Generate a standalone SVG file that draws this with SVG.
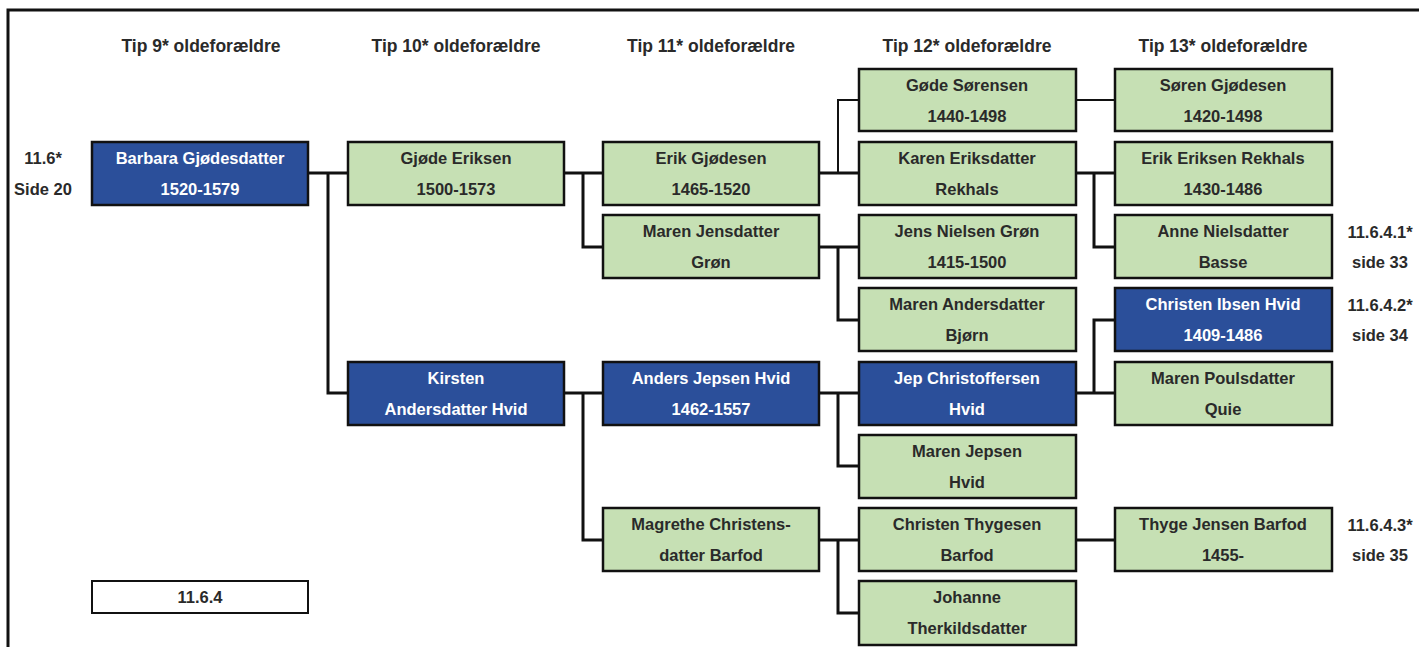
<svg xmlns="http://www.w3.org/2000/svg" width="1419" height="647" viewBox="0 0 1419 647">
<style>
.bg{fill:#ffffff}
.frame{stroke:#111;stroke-width:3;fill:none}
.g rect{fill:#c6e0b4;stroke:#111;stroke-width:2.5}
.b rect{fill:#2b4f9a;stroke:#111;stroke-width:2.5}
.w rect{fill:#ffffff;stroke:#111;stroke-width:2}
.edge{stroke:#111;stroke-width:3;fill:none}
text{font-family:"Liberation Sans",Arial,sans-serif;font-weight:bold;font-size:16.5px;text-anchor:middle;fill:#2a2a2a}
.b text{fill:#ffffff}
.hd{font-size:17.5px}
</style>
<rect class="bg" x="0" y="0" width="1419" height="647"/>
<path class="frame" d="M8,647 V10 H1419"/>

<g id="headers">
<text class="hd" x="201" y="52">Tip 9* oldeforældre</text>
<text class="hd" x="456" y="52">Tip 10* oldeforældre</text>
<text class="hd" x="711" y="52">Tip 11* oldeforældre</text>
<text class="hd" x="967" y="52">Tip 12* oldeforældre</text>
<text class="hd" x="1223" y="52">Tip 13* oldeforældre</text>
</g>

<g id="side-labels">
<text x="43" y="164">11.6*</text>
<text x="43" y="195">Side 20</text>
<text x="1380" y="238">11.6.4.1*</text>
<text x="1380" y="268">side 33</text>
<text x="1380" y="311">11.6.4.2*</text>
<text x="1380" y="341">side 34</text>
<text x="1380" y="531">11.6.4.3*</text>
<text x="1380" y="561">side 35</text>
</g>

<g id="connectors">
<path class="edge" d="M308,173 H348 M328,173 V393 H348"/>
<path class="edge" d="M564,173 H603 M583,173 V247 H603"/>
<path class="edge" d="M818,173 H859"/>
<path class="edge" d="M838,173 V100 H859" style="stroke-width:2"/>
<path class="edge" d="M818,247 H859 M838,247 V320 H859"/>
<path class="edge" d="M1076,100 H1115" style="stroke-width:2"/>
<path class="edge" d="M1076,173 H1115 M1094,173 V247 H1115"/>
<path class="edge" d="M564,393 H603 M583,393 V540 H603"/>
<path class="edge" d="M818,393 H859 M838,393 V466 H859"/>
<path class="edge" d="M1076,393 H1115 M1094,393 V320 H1115"/>
<path class="edge" d="M818,540 H859 M838,540 V613 H859"/>
<path class="edge" d="M1076,540 H1115"/>
</g>

<g id="n-barbara" class="b"><rect x="92" y="142" width="216" height="63"/><text x="200" y="164">Barbara Gjødesdatter</text><text x="200" y="195">1520-1579</text></g>
<g id="n-ref" class="w"><rect x="92" y="581" width="216" height="32"/><text x="200" y="603">11.6.4</text></g>

<g id="n-gjode" class="g"><rect x="348" y="142" width="216" height="63"/><text x="456" y="164">Gjøde Eriksen</text><text x="456" y="195">1500-1573</text></g>
<g id="n-kirsten" class="b"><rect x="348" y="362" width="216" height="63"/><text x="456" y="384">Kirsten</text><text x="456" y="415">Andersdatter Hvid</text></g>

<g id="n-erik" class="g"><rect x="603" y="142" width="216" height="63"/><text x="711" y="164">Erik Gjødesen</text><text x="711" y="195">1465-1520</text></g>
<g id="n-marenj" class="g"><rect x="603" y="215" width="216" height="63"/><text x="711" y="237">Maren Jensdatter</text><text x="711" y="268">Grøn</text></g>
<g id="n-anders" class="b"><rect x="603" y="362" width="216" height="63"/><text x="711" y="384">Anders Jepsen Hvid</text><text x="711" y="415">1462-1557</text></g>
<g id="n-magrethe" class="g"><rect x="603" y="508" width="216" height="63"/><text x="711" y="530">Magrethe Christens-</text><text x="711" y="561">datter Barfod</text></g>

<g id="n-gode" class="g"><rect x="859" y="69" width="217" height="62"/><text x="967" y="91">Gøde Sørensen</text><text x="967" y="122">1440-1498</text></g>
<g id="n-karen" class="g"><rect x="859" y="142" width="217" height="63"/><text x="967" y="164">Karen Eriksdatter</text><text x="967" y="195">Rekhals</text></g>
<g id="n-jens" class="g"><rect x="859" y="215" width="217" height="63"/><text x="967" y="237">Jens Nielsen Grøn</text><text x="967" y="268">1415-1500</text></g>
<g id="n-marena" class="g"><rect x="859" y="288" width="217" height="63"/><text x="967" y="310">Maren Andersdatter</text><text x="967" y="341">Bjørn</text></g>
<g id="n-jep" class="b"><rect x="859" y="362" width="217" height="63"/><text x="967" y="384">Jep Christoffersen</text><text x="967" y="415">Hvid</text></g>
<g id="n-marenjh" class="g"><rect x="859" y="435" width="217" height="63"/><text x="967" y="457">Maren Jepsen</text><text x="967" y="488">Hvid</text></g>
<g id="n-christent" class="g"><rect x="859" y="508" width="217" height="63"/><text x="967" y="530">Christen Thygesen</text><text x="967" y="561">Barfod</text></g>
<g id="n-johanne" class="g"><rect x="859" y="581" width="217" height="64"/><text x="967" y="603">Johanne</text><text x="967" y="634">Therkildsdatter</text></g>

<g id="n-soren" class="g"><rect x="1115" y="69" width="217" height="62"/><text x="1223" y="91">Søren Gjødesen</text><text x="1223" y="122">1420-1498</text></g>
<g id="n-erike" class="g"><rect x="1115" y="142" width="217" height="63"/><text x="1223" y="164">Erik Eriksen Rekhals</text><text x="1223" y="195">1430-1486</text></g>
<g id="n-anne" class="g"><rect x="1115" y="215" width="217" height="63"/><text x="1223" y="237">Anne Nielsdatter</text><text x="1223" y="268">Basse</text></g>
<g id="n-christeni" class="b"><rect x="1115" y="288" width="217" height="63"/><text x="1223" y="310">Christen Ibsen Hvid</text><text x="1223" y="341">1409-1486</text></g>
<g id="n-marenp" class="g"><rect x="1115" y="362" width="217" height="63"/><text x="1223" y="384">Maren Poulsdatter</text><text x="1223" y="415">Quie</text></g>
<g id="n-thyge" class="g"><rect x="1115" y="508" width="217" height="63"/><text x="1223" y="530">Thyge Jensen Barfod</text><text x="1223" y="561">1455-</text></g>
</svg>
